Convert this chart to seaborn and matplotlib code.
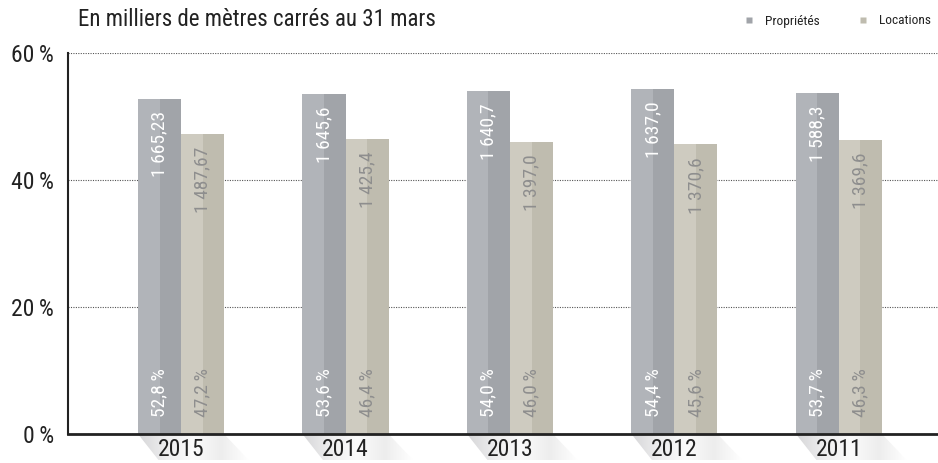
import numpy as np
import pandas as pd
import matplotlib
matplotlib.use("Agg")
import matplotlib.pyplot as plt
import seaborn as sns
from matplotlib.patches import Rectangle, Polygon
from matplotlib.lines import Line2D
from matplotlib.colors import LinearSegmentedColormap

# ---- data ----
years = ["2015", "2014", "2013", "2012", "2011"]
series = ["Propriétés", "Locations"]
prop_pct = [52.8, 53.6, 54.0, 54.4, 53.7]
loc_pct = [47.2, 46.4, 46.0, 45.6, 46.3]
prop_area = ["1 665,23", "1 645,6", "1 640,7", "1 637,0", "1 588,3"]
loc_area = ["1 487,67", "1 425,4", "1 397,0", "1 370,6", "1 369,6"]
prop_pct_lbl = ["52,8\u2009%", "53,6\u2009%", "54,0\u2009%", "54,4\u2009%", "53,7\u2009%"]
loc_pct_lbl = ["47,2\u2009%", "46,4\u2009%", "46,0\u2009%", "45,6\u2009%", "46,3\u2009%"]
yticks = [0, 20, 40, 60]
ytick_labels = ["0\u2009%", "20\u2009%", "40\u2009%", "60\u2009%"]
title = "En milliers de mètres carrés au 31 mars"

sns.set_theme(style="white")
FAM = ["Liberation Sans Narrow", "Roboto Condensed", "Liberation Sans", "DejaVu Sans"]
plt.rcParams["font.family"] = FAM

light = {"Propriétés": "#b1b4b9", "Locations": "#cecbc0"}
dark = {"Propriétés": "#a1a4a9", "Locations": "#bfbcaf"}
text_col = {"Propriétés": "#ffffff", "Locations": "#8e8e8e"}

df = pd.DataFrame({
    "year": years * 2,
    "pct": prop_pct + loc_pct,
    "type": [series[0]] * len(years) + [series[1]] * len(years),
})

fig = plt.figure(figsize=(9.38, 4.63), dpi=100)
ax = fig.add_axes([0.0725, 0.0626, 0.9275, 0.8229])
ax.set_zorder(2)

sns.barplot(data=df, x="year", y="pct", hue="type", order=years, hue_order=series,
            palette=light, width=0.523, saturation=1, dodge=True, legend=False,
            ax=ax, zorder=2, linewidth=0)

XL = (-0.687, 4.602)
ax.set_xlim(*XL)
ax.set_ylim(0, 60)
ax.set_yticks(yticks)
ax.set_yticklabels(ytick_labels)
ax.yaxis.grid(True, color="#555555", linestyle=(0, (1, 1.2)), linewidth=0.8, zorder=0)
ax.set_axisbelow(True)
ax.set_xlabel("")
ax.set_ylabel("")
ax.tick_params(axis="both", length=0)
ax.tick_params(axis="y", pad=10, labelsize=17, labelcolor="#222222")
ax.tick_params(axis="x", pad=3, labelsize=17, labelcolor="#222222")
for s in ["top", "right"]:
    ax.spines[s].set_visible(False)
ax.spines["left"].set_color("#222222")
ax.spines["left"].set_linewidth(1.5)
ax.spines["bottom"].set_color("#222222")
ax.spines["bottom"].set_linewidth(2.0)
ax.spines["bottom"].set_zorder(5)

area_lbls = {series[0]: prop_area, series[1]: loc_area}
pct_lbls = {series[0]: prop_pct_lbl, series[1]: loc_pct_lbl}

for cont, name in zip(ax.containers, series):
    for i, p in enumerate(cont.patches):
        x0, w, h = p.get_x(), p.get_width(), p.get_height()
        ax.add_patch(Rectangle((x0 + w / 2, 0), w / 2, h, facecolor=dark[name],
                               edgecolor="none", zorder=3))
        xc = x0 + w / 2
        ax.annotate(area_lbls[name][i], (xc, h), xytext=(0, -9), textcoords="offset points",
                    rotation=90, ha="center", va="top", fontsize=14,
                    color=text_col[name], zorder=4)
        ax.annotate(pct_lbls[name][i], (xc, 0), xytext=(0, 12), textcoords="offset points",
                    rotation=90, ha="center", va="bottom", fontsize=14,
                    color=text_col[name], zorder=4)

# shadows beneath the axis
sax = fig.add_axes([0.0725, 0.0, 0.9275, 0.0626])
sax.set_zorder(1)
sax.set_xlim(*XL)
sax.set_ylim(0, 1)
sax.axis("off")
cmap = LinearSegmentedColormap.from_list(
    "sh", ["#d6d6d8", "#eeeeef", "#fbfbfb", "#ededed", "#ffffff"])
p0 = ax.containers[0].patches
p1 = ax.containers[1].patches
for a, b in zip(p0, p1):
    xl = a.get_x()
    xr = b.get_x() + b.get_width()
    sh = 0.125
    poly = Polygon([(xl, 1), (xr, 1), (xr + sh * 1.2, 0.1), (xl + sh, 0.1)],
                   closed=True, facecolor="none", edgecolor="none")
    sax.add_patch(poly)
    grad = np.linspace(0, 1, 256).reshape(1, -1)
    im = sax.imshow(grad, extent=(xl, xr + sh * 1.2, 0.1, 1), aspect="auto",
                    cmap=cmap, interpolation="bilinear", zorder=1)
    im.set_clip_path(poly)

# title
fig.text(78 / 938, 1 - 20 / 463, title, ha="left", va="center", fontsize=16.5,
         color="#222222")

# legend
handles = [Line2D([], [], marker="s", linestyle="none", markersize=4.5,
                  markerfacecolor=dark[s], markeredgecolor="none") for s in series]
fig.legend(handles, series, loc="center right", bbox_to_anchor=(0.998, 1 - 21 / 463),
           ncol=2, frameon=False, fontsize=9.6, handletextpad=0.2, columnspacing=2.2,
           borderaxespad=0, labelcolor="#222222")

fig.savefig("out.png", dpi=100)
